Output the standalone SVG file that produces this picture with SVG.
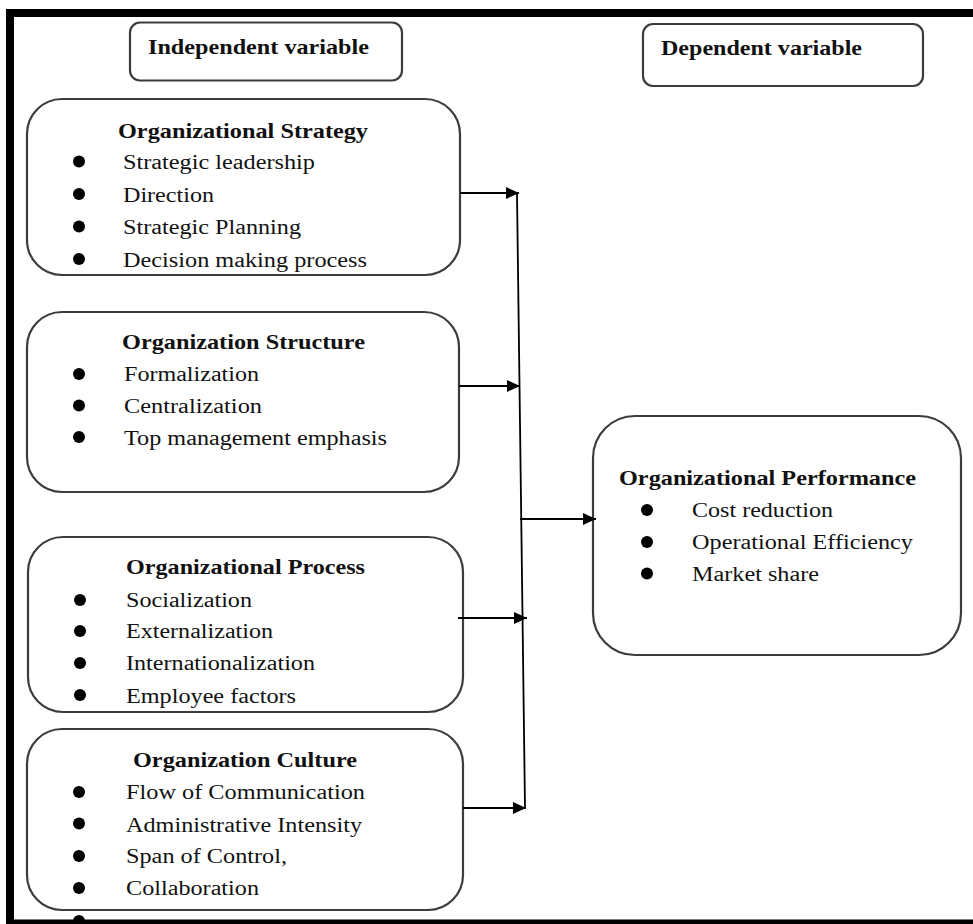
<svg xmlns="http://www.w3.org/2000/svg" width="973" height="924" viewBox="0 0 973 924">
<defs>
<style>
.box{fill:#fff;stroke:#3c3c3c;stroke-width:2.2}
.t{font-family:"Liberation Serif","Times New Roman",serif;fill:#111}
.h{font-size:22px;font-weight:bold}
.ti{font-size:21px;font-weight:bold}
.b{font-size:20px}
.bul{fill:#000}
.con{stroke:#000;stroke-width:1.8;fill:none}
.frame{fill:#000}
</style>
<marker id="arr" markerWidth="13" markerHeight="12" refX="13" refY="6" orient="auto" markerUnits="userSpaceOnUse">
<path d="M0,0 L13,6 L0,12 z" fill="#000"/>
</marker>
</defs>
<rect width="973" height="924" fill="#fff"/>

<g id="independent-label">
<rect class="box" x="130" y="22.5" width="272" height="58" rx="10"/>
<text class="t h" x="148" y="54" textLength="221" lengthAdjust="spacingAndGlyphs">Independent variable</text>
</g>

<g id="dependent-label">
<rect class="box" x="643" y="24" width="280" height="62" rx="10"/>
<text class="t h" x="661" y="55" textLength="201" lengthAdjust="spacingAndGlyphs">Dependent variable</text>
</g>

<g id="org-strategy">
<rect class="box" x="27" y="99" width="433" height="176" rx="35"/>
<text class="t ti" x="118" y="138" textLength="250" lengthAdjust="spacingAndGlyphs">Organizational Strategy</text>
<circle class="bul" cx="79" cy="161.5" r="6"/>
<circle class="bul" cx="79" cy="194" r="6"/>
<circle class="bul" cx="79" cy="226.5" r="6"/>
<circle class="bul" cx="79" cy="259" r="6"/>
<text class="t b" x="123" y="169" textLength="192" lengthAdjust="spacingAndGlyphs">Strategic leadership</text>
<text class="t b" x="123" y="202" textLength="91" lengthAdjust="spacingAndGlyphs">Direction</text>
<text class="t b" x="123" y="234" textLength="178" lengthAdjust="spacingAndGlyphs">Strategic Planning</text>
<text class="t b" x="123" y="267" textLength="244" lengthAdjust="spacingAndGlyphs">Decision making process</text>
</g>

<g id="org-structure">
<rect class="box" x="27" y="312" width="432" height="180" rx="35"/>
<text class="t ti" x="122" y="349" textLength="243" lengthAdjust="spacingAndGlyphs">Organization Structure</text>
<circle class="bul" cx="79" cy="374" r="6"/>
<circle class="bul" cx="79" cy="405.5" r="6"/>
<circle class="bul" cx="79" cy="437" r="6"/>
<text class="t b" x="124" y="381" textLength="135" lengthAdjust="spacingAndGlyphs">Formalization</text>
<text class="t b" x="124" y="413" textLength="138" lengthAdjust="spacingAndGlyphs">Centralization</text>
<text class="t b" x="124" y="445" textLength="263" lengthAdjust="spacingAndGlyphs">Top management emphasis</text>
</g>

<g id="org-process">
<rect class="box" x="28" y="537" width="435" height="175" rx="35"/>
<text class="t ti" x="126" y="574" textLength="239" lengthAdjust="spacingAndGlyphs">Organizational Process</text>
<circle class="bul" cx="80" cy="600" r="6"/>
<circle class="bul" cx="80" cy="631" r="6"/>
<circle class="bul" cx="80" cy="663" r="6"/>
<circle class="bul" cx="80" cy="695" r="6"/>
<text class="t b" x="126" y="607" textLength="126" lengthAdjust="spacingAndGlyphs">Socialization</text>
<text class="t b" x="126" y="638" textLength="147" lengthAdjust="spacingAndGlyphs">Externalization</text>
<text class="t b" x="126" y="670" textLength="189" lengthAdjust="spacingAndGlyphs">Internationalization</text>
<text class="t b" x="126" y="703" textLength="170" lengthAdjust="spacingAndGlyphs">Employee factors</text>
</g>

<g id="org-culture">
<rect class="box" x="27" y="729" width="436" height="181" rx="35"/>
<text class="t ti" x="133" y="767" textLength="224" lengthAdjust="spacingAndGlyphs">Organization Culture</text>
<circle class="bul" cx="79" cy="792" r="6"/>
<circle class="bul" cx="79" cy="823.5" r="6"/>
<circle class="bul" cx="79" cy="856" r="6"/>
<circle class="bul" cx="79" cy="888" r="6"/>
<circle class="bul" cx="79" cy="921" r="6"/>
<text class="t b" x="126" y="799" textLength="239" lengthAdjust="spacingAndGlyphs">Flow of Communication</text>
<text class="t b" x="126" y="832" textLength="236" lengthAdjust="spacingAndGlyphs">Administrative Intensity</text>
<text class="t b" x="126" y="863" textLength="161" lengthAdjust="spacingAndGlyphs">Span of Control,</text>
<text class="t b" x="126" y="895" textLength="133" lengthAdjust="spacingAndGlyphs">Collaboration</text>
</g>

<g id="org-performance">
<rect class="box" x="593" y="416" width="368" height="239" rx="42"/>
<text class="t ti" x="619" y="485" textLength="297" lengthAdjust="spacingAndGlyphs">Organizational Performance</text>
<circle class="bul" cx="647" cy="510" r="6"/>
<circle class="bul" cx="647" cy="542" r="6"/>
<circle class="bul" cx="647" cy="573.5" r="6"/>
<text class="t b" x="692" y="517" textLength="141" lengthAdjust="spacingAndGlyphs">Cost reduction</text>
<text class="t b" x="692" y="549" textLength="221" lengthAdjust="spacingAndGlyphs">Operational Efficiency</text>
<text class="t b" x="692" y="581" textLength="127" lengthAdjust="spacingAndGlyphs">Market share</text>
</g>

<g id="connectors">
<line class="con" x1="517" y1="193" x2="525" y2="808"/>
<line class="con" x1="460" y1="193" x2="519" y2="193" marker-end="url(#arr)"/>
<line class="con" x1="459" y1="386" x2="520" y2="386" marker-end="url(#arr)"/>
<line class="con" x1="458" y1="618" x2="527" y2="618" marker-end="url(#arr)"/>
<line class="con" x1="463" y1="808" x2="526" y2="808" marker-end="url(#arr)"/>
<line class="con" x1="520" y1="519" x2="596" y2="519" marker-end="url(#arr)"/>
</g>

<g id="frame">
<rect class="frame" x="6" y="9" width="967" height="8"/>
<rect class="frame" x="6" y="9" width="8" height="915"/>
<rect class="frame" x="6" y="919.5" width="967" height="4.5"/>
</g>
</svg>
